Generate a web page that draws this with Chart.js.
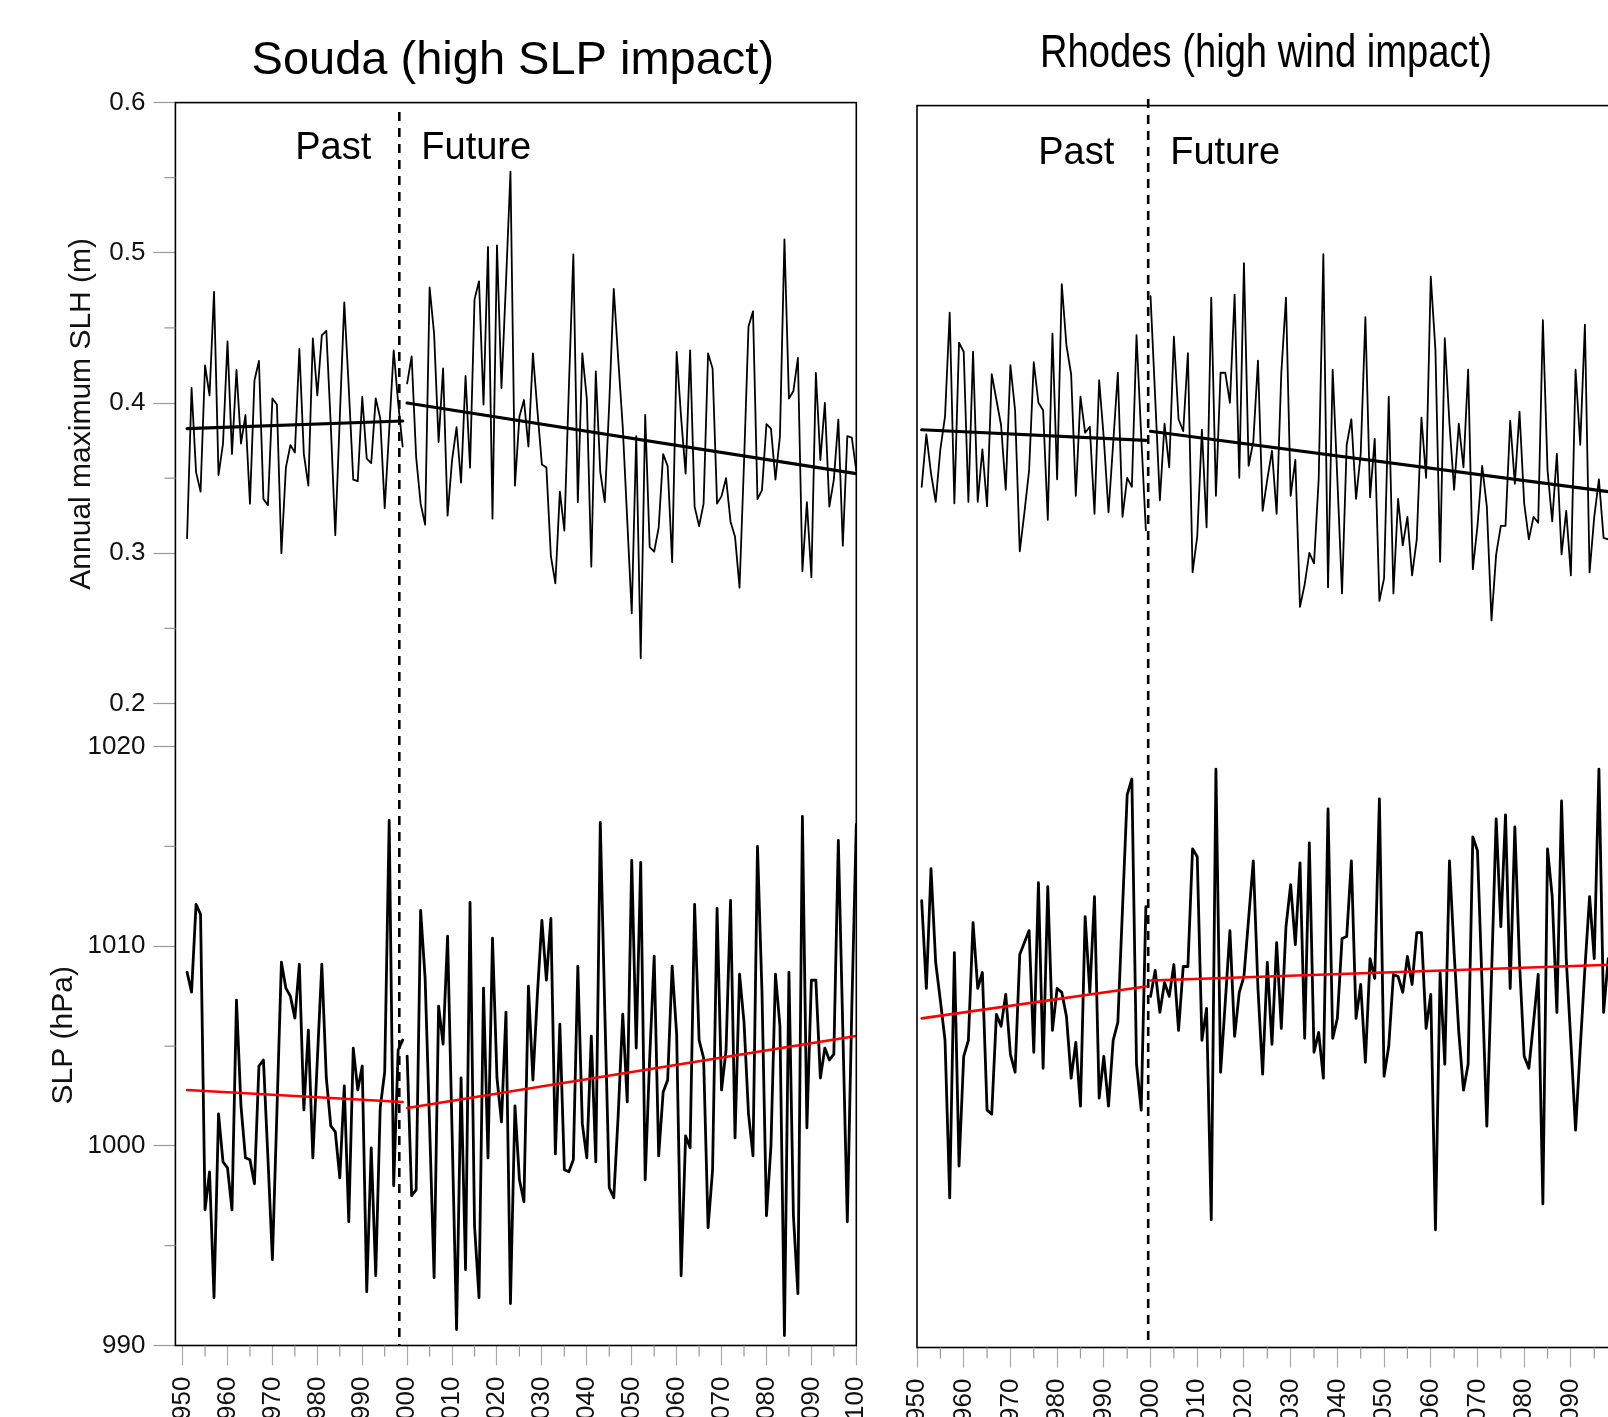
<!DOCTYPE html>
<html lang="en">
<head>
<meta charset="UTF-8">
<title>Souda and Rhodes: annual maximum SLH and SLP</title>
<script src="https://cdn.jsdelivr.net/npm/chart.js"></script>
<style>
  html, body { margin: 0; padding: 0; background: #fff; overflow: hidden; width: 1608px; height: 1417px; }
  canvas { position: absolute; top: 0; }
  #souda { left: 0; }
  #rhodes { left: 880px; }
</style>
</head>
<body>
<canvas id="souda" width="880" height="1470"></canvas>
<canvas id="rhodes" width="760" height="1470"></canvas>
<script>
// ---- years / ticks ----
const pastYears = [];
for (let y = 1951; y <= 1999; y++) pastYears.push(y);
const futureYears = [];
for (let y = 2000; y <= 2100; y++) futureYears.push(y);
const trendPastYears = [1951, 1999];
const trendFutureYears = [2000, 2100];

const decadeTicks = [1950, 1960, 1970, 1980, 1990, 2000, 2010, 2020, 2030, 2040, 2050, 2060, 2070, 2080, 2090, 2100];
const halfDecadeTicks = [1955, 1965, 1975, 1985, 1995, 2005, 2015, 2025, 2035, 2045, 2055, 2065, 2075, 2085, 2095];
const slhTicks = [0.2, 0.3, 0.4, 0.5, 0.6];
const slhMinorTicks = [0.25, 0.35, 0.45, 0.55];
const slpTicks = [990, 1000, 1010, 1020];
const slpMinorTicks = [995, 1005, 1015];

// ---- Souda ----
const soudaSlhPast = [
  0.310, 0.410, 0.354, 0.341, 0.425, 0.405, 0.474, 0.352, 0.373, 0.441,
  0.366, 0.422, 0.373, 0.392, 0.333, 0.415, 0.428, 0.336, 0.332, 0.403,
  0.399, 0.300, 0.357, 0.372, 0.367, 0.436, 0.366, 0.345, 0.443, 0.405,
  0.445, 0.448, 0.385, 0.312, 0.390, 0.467, 0.410, 0.349, 0.348, 0.404,
  0.363, 0.360, 0.403, 0.390, 0.330, 0.382, 0.435, 0.400, 0.371
];
const soudaSlhFuture = [
  0.413, 0.431, 0.364, 0.333, 0.319, 0.477, 0.446, 0.374, 0.423, 0.325,
  0.362, 0.384, 0.347, 0.418, 0.357, 0.469, 0.481, 0.399, 0.504, 0.323,
  0.505, 0.410, 0.480, 0.554, 0.345, 0.391, 0.402, 0.371, 0.433, 0.395,
  0.359, 0.357, 0.298, 0.280, 0.341, 0.315, 0.410, 0.499, 0.334, 0.433,
  0.403, 0.291, 0.421, 0.354, 0.334, 0.400, 0.476, 0.429, 0.384, 0.322,
  0.260, 0.378, 0.230, 0.392, 0.304, 0.301, 0.317, 0.366, 0.358, 0.294,
  0.434, 0.390, 0.353, 0.435, 0.331, 0.318, 0.333, 0.433, 0.423, 0.333,
  0.338, 0.350, 0.321, 0.311, 0.277, 0.360, 0.451, 0.461, 0.336, 0.342,
  0.386, 0.383, 0.349, 0.378, 0.509, 0.403, 0.408, 0.430, 0.288, 0.334,
  0.284, 0.420, 0.362, 0.400, 0.331, 0.349, 0.389, 0.305, 0.378, 0.377,
  0.355
];
const soudaSlpPast = [
  1008.7, 1007.7, 1012.1, 1011.6, 996.8, 998.7, 992.4, 1001.6, 999.2, 998.9,
  996.8, 1007.3, 1002.0, 999.4, 999.3, 998.1, 1004.0, 1004.3, 999.4, 994.3,
  1001.7, 1009.2, 1007.9, 1007.5, 1006.4, 1009.1, 1001.8, 1005.8, 999.4, 1004.3,
  1009.1, 1003.4, 1001.0, 1000.7, 998.4, 1003.0, 996.2, 1004.9, 1002.8, 1004.0,
  992.7, 999.9, 993.5, 1001.9, 1003.7, 1016.3, 998.0, 1004.8, 1005.3
];
const soudaSlpFuture = [
  1004.5, 997.5, 997.8, 1011.8, 1008.4, 1001.0, 993.4, 1007.0, 1005.1, 1010.5,
  1000.7, 990.8, 1003.4, 993.8, 1012.2, 996.0, 992.4, 1007.9, 999.4, 1010.4,
  1003.4, 1001.2, 1006.7, 992.1, 1002.0, 998.3, 997.2, 1008.0, 1003.3, 1007.6,
  1011.3, 1008.3, 1011.4, 999.6, 1006.1, 998.8, 998.7, 999.3, 1009.0, 1001.1,
  999.4, 1005.5, 999.2, 1016.2, 1006.8, 997.9, 997.4, 1001.6, 1006.6, 1002.2,
  1014.3, 1004.9, 1014.2, 998.3, 1004.4, 1009.5, 999.5, 1002.7, 1003.3, 1009.0,
  1005.6, 993.5, 1000.5, 999.9, 1012.1, 1005.3, 1004.4, 995.9, 998.8, 1011.9,
  1002.8, 1004.8, 1012.3, 1000.4, 1008.6, 1006.2, 1001.6, 999.5, 1015.0, 1007.7,
  996.5, 1000.0, 1008.6, 1006.0, 990.5, 1008.7, 996.5, 992.6, 1016.5, 1000.9,
  1008.3, 1008.3, 1003.4, 1004.9, 1004.3, 1004.6, 1015.3, 1005.8, 996.2, 1006.9,
  1016.1
];
const soudaSlhTrendPast = [0.383, 0.388];
const soudaSlhTrendFuture = [0.400, 0.353];
const soudaSlpTrendPast = [1002.8, 1002.2];
const soudaSlpTrendFuture = [1001.9, 1005.5];

// ---- Rhodes ----
const rhodesSlhPast = [
  0.346, 0.381, 0.355, 0.336, 0.371, 0.393, 0.462, 0.335, 0.442, 0.436,
  0.336, 0.436, 0.336, 0.371, 0.333, 0.421, 0.404, 0.387, 0.344, 0.427,
  0.397, 0.303, 0.329, 0.357, 0.429, 0.402, 0.397, 0.324, 0.448, 0.351,
  0.481, 0.440, 0.421, 0.340, 0.406, 0.382, 0.386, 0.328, 0.417, 0.378,
  0.329, 0.375, 0.422, 0.326, 0.352, 0.346, 0.447, 0.380, 0.317
];
const rhodesSlhFuture = [
  0.473, 0.405, 0.337, 0.388, 0.359, 0.446, 0.391, 0.383, 0.435, 0.289,
  0.313, 0.384, 0.319, 0.472, 0.340, 0.422, 0.422, 0.402, 0.474, 0.352,
  0.495, 0.360, 0.376, 0.430, 0.330, 0.351, 0.370, 0.328, 0.422, 0.472,
  0.340, 0.364, 0.266, 0.281, 0.302, 0.295, 0.351, 0.501, 0.279, 0.424,
  0.351, 0.275, 0.374, 0.391, 0.338, 0.368, 0.459, 0.339, 0.378, 0.270,
  0.285, 0.406, 0.275, 0.338, 0.307, 0.326, 0.287, 0.311, 0.392, 0.352,
  0.486, 0.437, 0.296, 0.445, 0.388, 0.344, 0.388, 0.359, 0.424, 0.291,
  0.320, 0.360, 0.333, 0.257, 0.301, 0.320, 0.320, 0.390, 0.348, 0.396,
  0.335, 0.311, 0.326, 0.322, 0.457, 0.357, 0.323, 0.368, 0.301, 0.330,
  0.287, 0.424, 0.374, 0.454, 0.289, 0.326, 0.351, 0.312, 0.311
];
const rhodesSlpPast = [
  1012.4, 1008.0, 1014.0, 1009.3, 1007.4, 1005.4, 997.5, 1009.8, 999.1, 1004.6,
  1005.4, 1011.3, 1008.0, 1008.8, 1001.9, 1001.7, 1006.7, 1006.1, 1007.7, 1004.7,
  1003.8, 1009.7, 1010.3, 1010.9, 1004.8, 1013.3, 1004.0, 1013.1, 1005.9, 1008.0,
  1007.8, 1006.6, 1003.5, 1005.3, 1002.1, 1011.6, 1007.8, 1012.6, 1002.5, 1004.6,
  1002.1, 1005.4, 1006.3, 1012.0, 1017.7, 1018.5, 1004.2, 1001.9, 1012.1
];
const rhodesSlpFuture = [
  1007.6, 1008.9, 1006.8, 1008.3, 1007.6, 1009.2, 1005.9, 1009.1, 1009.1, 1015.0,
  1014.6, 1005.4, 1007.0, 996.4, 1019.0, 1003.8, 1007.3, 1010.9, 1005.6, 1007.8,
  1008.6, 1011.5, 1014.4, 1008.0, 1003.7, 1009.3, 1005.2, 1010.3, 1006.0, 1011.1,
  1013.2, 1010.2, 1014.3, 1005.5, 1015.3, 1004.8, 1005.8, 1003.5, 1017.0, 1005.5,
  1006.5, 1010.5, 1010.6, 1014.4, 1006.5, 1008.2, 1004.3, 1009.5, 1008.5, 1017.5,
  1003.6, 1005.1, 1008.7, 1008.6, 1007.8, 1009.6, 1008.2, 1010.8, 1010.8, 1006.0,
  1007.7, 995.9, 1008.8, 1004.2, 1014.4, 1009.8, 1005.8, 1002.9, 1004.2, 1015.6,
  1014.9, 1008.1, 1001.1, 1008.6, 1016.5, 1011.1, 1016.7, 1008.0, 1016.1, 1009.3,
  1004.6, 1004.0, 1006.3, 1008.7, 997.2, 1015.0, 1012.6, 1006.8, 1017.4, 1009.5,
  1005.3, 1000.9, 1005.0, 1009.0, 1012.6, 1009.5, 1019.0, 1006.8, 1009.5
];
const rhodesSlhTrendPast = [0.384, 0.377];
const rhodesSlhTrendFuture = [0.383, 0.342];
const rhodesSlpTrendPast = [1006.5, 1008.1];
const rhodesSlpTrendFuture = [1008.4, 1009.2];

Chart.defaults.font.family = '"Liberation Sans", Arial, sans-serif';
Chart.defaults.color = '#111';

function series(years, values, axis, color, width, order) {
  return {
    data: values.map((v, i) => ({ x: years[i], y: v })),
    yAxisID: axis,
    borderColor: color,
    borderWidth: width,
    pointRadius: 0,
    tension: 0,
    fill: false,
    borderJoinStyle: 'round',
    borderCapStyle: 'round',
    order: order
  };
}

// box, dashed divider, titles, Past/Future, minor ticks
const decorations = {
  id: 'decorations',
  afterDatasetsDraw(chart, args, o) {
    const { ctx, chartArea: a, scales } = chart;
    ctx.save();
    // frame
    ctx.strokeStyle = '#000';
    ctx.lineWidth = 1.6;
    ctx.strokeRect(a.left, a.top, a.right - a.left, a.bottom - a.top);
    // past / future divider
    const dx = scales.x.getPixelForValue(o.divider);
    ctx.setLineDash([9, 7]);
    ctx.lineWidth = 2.6;
    ctx.beginPath();
    ctx.moveTo(dx, o.dashTop);
    ctx.lineTo(dx, a.bottom);
    ctx.stroke();
    ctx.setLineDash([]);
    // Past / Future
    ctx.fillStyle = '#000';
    ctx.font = '38px "Liberation Sans", Arial, sans-serif';
    ctx.textBaseline = 'alphabetic';
    ctx.textAlign = 'right';
    ctx.fillText('Past', dx - o.pastGap, o.labelBase);
    ctx.textAlign = 'left';
    ctx.fillText('Future', dx + 22, o.labelBase);
    // title
    ctx.font = o.titleSize + 'px "Liberation Sans", Arial, sans-serif';
    ctx.textAlign = 'center';
    ctx.translate(o.titleX, o.titleBase);
    ctx.scale(o.titleStretch, 1);
    ctx.fillText(o.title, 0, 0);
    ctx.restore();

    // minor ticks
    ctx.save();
    ctx.strokeStyle = '#999';
    ctx.lineWidth = 1.2;
    ctx.beginPath();
    halfDecadeTicks.forEach(v => {
      const x = scales.x.getPixelForValue(v);
      ctx.moveTo(x, a.bottom);
      ctx.lineTo(x, a.bottom + 11);
    });
    if (o.showY) {
      slhMinorTicks.forEach(v => {
        const y = scales.ySLH.getPixelForValue(v);
        ctx.moveTo(a.left - 11, y);
        ctx.lineTo(a.left, y);
      });
      slpMinorTicks.forEach(v => {
        const y = scales.ySLP.getPixelForValue(v);
        ctx.moveTo(a.left - 11, y);
        ctx.lineTo(a.left, y);
      });
    }
    ctx.stroke();
    ctx.restore();
  }
};

function makePanel(id, p) {
  const yAxis = (ticks, min, max, weight, stackWeight, title, titlePad, fmt) => ({
    type: 'linear',
    position: 'left',
    stack: 'panel',
    stackWeight: stackWeight,
    weight: weight,
    min: min,
    max: max,
    afterBuildTicks: s => { s.ticks = ticks.map(v => ({ value: v })); },
    afterFit: s => { s.width = p.yWidth; s.paddingTop = 0; s.paddingBottom = 0; },
    ticks: { display: p.showY, padding: 8, font: { size: 26 }, color: '#111', callback: fmt },
    grid: { display: p.showY, drawOnChartArea: false, drawTicks: true, tickLength: 22, tickColor: '#999', tickWidth: 1.2 },
    border: { display: false },
    title: { display: p.showY, text: title, font: { size: 30 }, color: '#111', padding: { top: titlePad, bottom: 0 } }
  });

  return new Chart(document.getElementById(id), {
    type: 'line',
    data: {
      datasets: [
        series(pastYears, p.slhPast, 'ySLH', '#000', 1.8, 1),
        series(futureYears, p.slhFuture, 'ySLH', '#000', 1.8, 1),
        series(pastYears, p.slpPast, 'ySLP', '#000', 2.8, 1),
        series(futureYears, p.slpFuture, 'ySLP', '#000', 2.8, 1),
        series(trendPastYears, p.slhTrendPast, 'ySLH', '#000', 3.2, 0),
        series(trendFutureYears, p.slhTrendFuture, 'ySLH', '#000', 3.2, 0),
        series(trendPastYears, p.slpTrendPast, 'ySLP', '#ff0000', 2.6, 0),
        series(trendFutureYears, p.slpTrendFuture, 'ySLP', '#ff0000', 2.6, 0)
      ]
    },
    options: {
      responsive: false,
      animation: false,
      devicePixelRatio: 1,
      events: [],
      layout: { padding: { left: 0, top: p.padTop, right: p.padRight, bottom: 0 } },
      scales: {
        x: {
          type: 'linear',
          min: p.xMin,
          max: 2100,
          afterBuildTicks: s => { s.ticks = p.xTicks.map(v => ({ value: v })); },
          afterFit: s => { s.height = p.xHeight; s.paddingLeft = 0; s.paddingRight = 0; },
          ticks: { autoSkip: false, minRotation: 90, maxRotation: 90, padding: 11, font: { size: 26 }, color: '#111', callback: v => String(v) },
          grid: { drawOnChartArea: false, drawTicks: true, tickLength: 20, tickColor: '#aaa', tickWidth: 1.2 },
          border: { display: false }
        },
        ySLP: yAxis(slpTicks, 990, 1021.082, 1, 620.5, 'SLP (hPa)', 45.6, v => String(v)),
        ySLH: yAxis(slhTicks, 0.18562, 0.6, 2, 622.4, 'Annual maximum SLH (m)', 64, v => v.toFixed(1))
      },
      plugins: {
        legend: { display: false },
        tooltip: { enabled: false },
        decorations: p.deco
      }
    },
    plugins: [decorations]
  });
}

makePanel('souda', {
  slhPast: soudaSlhPast, slhFuture: soudaSlhFuture,
  slpPast: soudaSlpPast, slpFuture: soudaSlpFuture,
  slhTrendPast: soudaSlhTrendPast, slhTrendFuture: soudaSlhTrendFuture,
  slpTrendPast: soudaSlpTrendPast, slpTrendFuture: soudaSlpTrendFuture,
  showY: true, yWidth: 175.4, padTop: 102.6, padRight: 23.7, xHeight: 124.5, xMin: 1948.4,
  xTicks: decadeTicks,
  deco: {
    showY: true, divider: 1998.25, dashTop: 112, pastGap: 28, labelBase: 159,
    title: 'Souda (high SLP impact)', titleX: 512.8, titleBase: 74, titleSize: 47, titleStretch: 1
  }
});

// the 2100 end of the Rhodes panel lies past the right edge of the page
makePanel('rhodes', {
  slhPast: rhodesSlhPast, slhFuture: rhodesSlhFuture,
  slpPast: rhodesSlpPast, slpFuture: rhodesSlpFuture,
  slhTrendPast: rhodesSlhTrendPast, slhTrendFuture: rhodesSlhTrendFuture,
  slpTrendPast: rhodesSlpTrendPast, slpTrendFuture: rhodesSlpTrendFuture,
  showY: false, yWidth: 37, padTop: 105.6, padRight: 22.4, xHeight: 122.5, xMin: 1950,
  xTicks: decadeTicks.filter(v => v < 2100),
  deco: {
    showY: false, divider: 1999.5, dashTop: 99, pastGap: 34, labelBase: 164,
    title: 'Rhodes (high wind impact)', titleX: 386, titleBase: 67, titleSize: 46, titleStretch: 0.83
  }
});
</script>
</body>
</html>
